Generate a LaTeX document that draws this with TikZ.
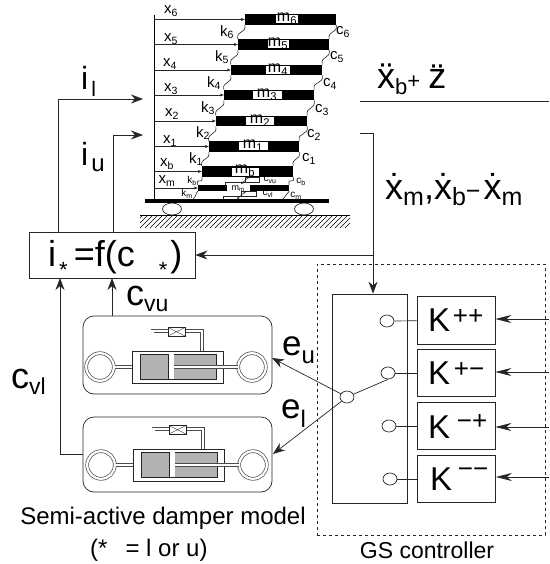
\documentclass[tikz,border=0pt]{standalone}
\usepackage{fontspec}
\setmainfont{Liberation Sans}
\usetikzlibrary{arrows.meta,shapes.geometric}

\newcommand{\fs}[1]{\fontsize{#1}{#1}\selectfont}
\newcommand{\dn}[3]{\raisebox{-#2}{\fs{#1}#3}}

\tikzstyle{ln}=[draw=black!85,line width=0.7pt]
\tikzstyle{arr}=[ln,-{Stealth[length=12pt,width=9pt]}]
\tikzstyle{inarr}=[ln,-{Stealth[length=16pt,width=8pt,inset=5pt]}]
\tikzstyle{smallarr}=[ln,line width=0.5pt,-{Stealth[length=4pt,width=3pt]}]
\tikzstyle{twoarr}=[ln,line width=0.5pt,{Stealth[length=3pt,width=2.5pt]}-{Stealth[length=3pt,width=2.5pt]}]
\tikzstyle{floorbar}=[fill=black,inner sep=0pt,minimum height=10.5pt]
\tikzstyle{flab}=[fill=white,inner sep=0pt,minimum height=8pt,text height=6pt,text depth=1pt,font=\fs{16}]
\tikzstyle{txt}=[inner sep=0pt,font=\fs{15}]
\tikzstyle{tinytxt}=[inner sep=0pt,font=\fs{10}]
\tikzstyle{bigtxt}=[inner sep=0pt,font=\fs{32}]
\tikzstyle{captxt}=[inner sep=0pt,font=\fs{24}]
\tikzstyle{kbox}=[ln,inner sep=0pt,minimum width=78pt,minimum height=47.5pt]
\tikzstyle{kwd}=[inner sep=0pt,font=\fs{33}]
\tikzstyle{ksup}=[inner sep=0pt,font=\fs{26}]
\tikzstyle{port}=[ln,fill=white,ellipse,inner sep=0pt,minimum width=14pt,minimum height=12pt]
\tikzstyle{wheel}=[ln,fill=white,ellipse,inner sep=0pt,minimum width=19pt,minimum height=12pt]
\tikzstyle{spring}=[ln,line width=0.6pt]
\tikzstyle{tubeo}=[draw=black!70,line width=3.6pt]
\tikzstyle{tubei}=[draw=white,line width=2.2pt]

\tikzset{
  damper/.pic={
    \foreach \st in {tubeo,tubei}{
      \draw[\st] (-77.5,0) circle (13.8);
      \draw[\st] (74.5,0) circle (13.8);
      \draw[\st] (-64,0) -- (-45,0);
      \draw[\st] (-25,-15) -- (-25,-36) -- (24.5,-36) -- (24.5,-15);
    }
    \draw[ln,fill=white] (-9.5,-39.5) rectangle (7.5,-31);
    \draw[ln,line width=0.4pt] (-9.5,-39.5) -- (7.5,-31) (-9.5,-31) -- (7.5,-39.5);
    \draw[ln,fill=white] (-45.5,-16) rectangle (45.5,16);
    \draw[ln,fill=black!30] (-37.5,-13) rectangle (38.5,12);
    \fill[white] (-9.5,-12.6) rectangle (-3.5,11.6);
    \draw[ln,line width=0.5pt] (-9.5,-13) -- (-9.5,12);
    \foreach \st in {tubeo,tubei}
      \draw[\st] (-3.5,0) -- (60,0);
  }
}

\begin{document}
\begin{tikzpicture}[x=1pt,y=-1pt]
  \useasboundingbox (0,0) rectangle (549,564);

  % ground
  \begin{scope}
    \clip (140,215) rectangle (350,228);
    \foreach \hx in {130,135,...,350} \draw[line width=0.4pt] (\hx,228) -- (\hx+13,215);
  \end{scope}
  \draw[line width=0.4pt] (140,215) -- (350,215);
  \node[wheel] (wl) at (172,209) {};
  \node[wheel] (wr) at (304,209) {};
  \node[fill=black,inner sep=0pt,minimum width=184pt,minimum height=4pt] (beam) at (237,201) {};
  \coordinate (pole) at (154,15);
  \coordinate (kmfoot) at (193,199);
  \coordinate (cmfoot) at (283,199);
  \draw[line width=1pt] (pole) -- (pole |- beam.north);

  % floors
  \node[floorbar,minimum width=91pt] (m6) at (290.5,19.5) {};
  \node[floorbar,minimum width=91pt] (m5) at (283.5,44.5) {};
  \node[floorbar,minimum width=91pt] (m4) at (276.5,70) {};
  \node[floorbar,minimum width=90pt] (m3) at (269,95) {};
  \node[floorbar,minimum width=91pt] (m2) at (261.5,121) {};
  \node[floorbar,minimum width=90pt] (m1) at (254,146.5) {};
  \node[floorbar,minimum width=91pt] (mb) at (247.5,171.5) {};
  \node[floorbar,minimum width=91pt,minimum height=6pt] (mm) at (243.5,188) {};

  % inner dampers
  \draw[ln,line width=0.5pt] (225,187) |- (245,182) |- (259,177) |- (245,182);
  \draw[ln,line width=0.5pt] (223,199) |- (241,196) |- (256,191) |- (241,196);

  \node[flab,minimum width=22pt] (lm6) at (287,19.5) {m\textsubscript{6}};
  \node[flab,minimum width=21pt] (lm5) at (278,44.5) {m\textsubscript{5}};
  \node[flab,minimum width=24pt] (lm4) at (278,70) {m\textsubscript{4}};
  \node[flab,minimum width=29pt] (lm3) at (267,95) {m\textsubscript{3}};
  \node[flab,minimum width=28pt] (lm2) at (260,121) {m\textsubscript{2}};
  \node[flab,minimum width=29pt] (lm1) at (253,146.5) {m\textsubscript{1}};
  \node[flab,minimum width=27pt] (lmb) at (245,171.5) {m\textsubscript{b}};
  \node[flab,font=\fs{9},minimum width=23pt,minimum height=6pt,text height=5pt] (lmm) at (238,188) {m\textsubscript{m}};

  \coordinate (dua) at (241,184);
  \coordinate (dub) at (250,176);
  \coordinate (dla) at (237,199);
  \coordinate (dlb) at (246,191);
  \draw[twoarr] (dua) -- (dub);
  \draw[twoarr] (dla) -- (dlb);

  % springs and dampers between floors
  \foreach \lo/\hi in {mm/mb,mb/m1,m1/m2,m2/m3,m3/m4,m4/m5,m5/m6}{
    \draw[spring] (\lo.north west) .. controls +(-2,-9) and +(2,9) .. (\hi.south west);
    \draw[spring] (\lo.north east) .. controls +(-2,-9) and +(2,9) .. (\hi.south east);
  }
  \draw[spring] (kmfoot) .. controls +(4,-3) and +(-3,3) .. (mm.south west);
  \draw[spring] (cmfoot) .. controls +(3,-3) and +(-3,3) .. (mm.south east);

  % displacement arrows
  \foreach \fl in {m6,m5,m4,m3,m2,m1,mb,mm}
    \draw[smallarr] (pole |- \fl.west) -- (\fl.west);

  \node[txt] (x6) at (171,11) {x\textsubscript{6}};
  \node[txt] (x5) at (171,39) {x\textsubscript{5}};
  \node[txt] (x4) at (170,64) {x\textsubscript{4}};
  \node[txt] (x3) at (171,89) {x\textsubscript{3}};
  \node[txt] (x2) at (172,114) {x\textsubscript{2}};
  \node[txt] (x1) at (170,141) {x\textsubscript{1}};
  \node[txt] (xb) at (167,164) {x\textsubscript{b}};
  \node[txt] (xm) at (167,181) {x\textsubscript{m}};

  \node[txt] (k6) at (227,32) {k\textsubscript{6}};
  \node[txt] (k5) at (222,57) {k\textsubscript{5}};
  \node[txt] (k4) at (214,83) {k\textsubscript{4}};
  \node[txt] (k3) at (208,108) {k\textsubscript{3}};
  \node[txt] (k2) at (203,133) {k\textsubscript{2}};
  \node[txt] (k1) at (196,159) {k\textsubscript{1}};
  \node[tinytxt] (kb) at (192,181) {k\textsubscript{b}};
  \node[tinytxt] (km) at (187,194) {k\textsubscript{m}};

  \node[txt] (c6) at (343,32) {c\textsubscript{6}};
  \node[txt] (c5) at (337,57) {c\textsubscript{5}};
  \node[txt] (c4) at (330,84) {c\textsubscript{4}};
  \node[txt] (c3) at (322,110) {c\textsubscript{3}};
  \node[txt] (c2) at (314,135) {c\textsubscript{2}};
  \node[txt] (c1) at (309,159) {c\textsubscript{1}};
  \node[tinytxt] (cb) at (301,182) {c\textsubscript{b}};
  \node[tinytxt] (cm) at (296,196) {c\textsubscript{m}};
  \node[tinytxt] (cvu) at (270,180) {c\textsubscript{vu}};
  \node[tinytxt] (cvl) at (268,194) {c\textsubscript{vl}};

  % controller law
  \node[ln,inner sep=0pt,minimum width=166pt,minimum height=46pt] (law) at (112,255) {};
  \node[inner sep=0pt,font=\fs{36},anchor=base west] (lawtxt) at (48,266) {i\hspace{3pt}\dn{22}{11pt}{*}\hspace{6pt}=f(c\hspace{24pt}\dn{22}{11pt}{*}\hspace{3pt})};

  \coordinate (iltop) at (143,99);
  \coordinate (iutop) at (143,135);
  \draw[arr] (law.north -| 58,0) |- (iltop);
  \draw[arr] (law.north -| 113,0) |- (iutop);
  \node[bigtxt,anchor=base west] (il) at (81,90) {i\hspace{3pt}\dn{21}{7pt}{l}};
  \node[bigtxt,anchor=base west] (iu) at (81,165) {i\hspace{3pt}\dn{24}{6pt}{u}};

  % top right signals
  \coordinate (zl) at (360,101);
  \coordinate (zr) at (549,101);
  \draw[ln] (zl) -- (zr);
  \node[inner sep=0pt,font=\fs{36},anchor=base west] (ztxt) at (377,89) {\"x\dn{22}{6pt}{b}{\fs{22}+}\hspace{8pt}\"z};
  \node[inner sep=0pt,font=\fs{36},anchor=base west] (xtxt) at (385,199) {\.x\dn{25}{6pt}{m},\.x\dn{25}{6pt}{b}{\fs{25}−}\hspace{3pt}\.x\dn{25}{6pt}{m}};

  % dampers
  \pic at (177.5,367) {damper};
  \pic at (178.5,465) {damper};
  \node[ln,rounded corners=11pt,inner sep=0pt,minimum width=189pt,minimum height=78pt] (du) at (177.5,355) {};
  \node[ln,rounded corners=11pt,inner sep=0pt,minimum width=189pt,minimum height=75pt] (dl) at (177.5,454.5) {};

  \coordinate (cvutop) at (112,278);
  \coordinate (cvltop) at (60,278);
  \draw[arr] (du.north -| cvutop) -- (cvutop);
  \draw[arr] (dl.west) -| (cvltop);
  \node[inner sep=0pt,font=\fs{36},anchor=base west] (cvu2) at (126,305) {c\dn{23}{6pt}{vu}};
  \node[inner sep=0pt,font=\fs{36},anchor=base west] (cvl2) at (11,388) {c\dn{23}{6pt}{vl}};
  \node[inner sep=0pt,font=\fs{35},anchor=base west] (eu) at (282,355) {e\dn{24}{8pt}{u}};
  \node[inner sep=0pt,font=\fs{35},anchor=base west] (el) at (281,418) {e\dn{24}{9pt}{l}};

  \node[captxt] (semi) at (163,518) {Semi-active damper model};
  \node[captxt,anchor=west] (star) at (90,550) {(*\hspace{18pt}= l or u)};

  % GS controller
  \node[draw=black!85,dashed,line width=0.6pt,inner sep=0pt,minimum width=228pt,minimum height=271pt] (gs) at (431,399.5) {};
  \node[captxt,font=\fs{23}] (gstxt) at (427,550) {GS controller};
  \node[ln,inner sep=0pt,minimum width=75pt,minimum height=209pt] (sw) at (369.5,398.5) {};

  \node[kbox] (kpp) at (456,320.5) {};
  \node[kbox] (kpm) at (456,373) {};
  \node[kbox] (kmp) at (456,426) {};
  \node[kbox] (kmm) at (456.5,479) {};
  \node[kwd] (kpptxt) at (439,320) {K};
  \node[kwd] (kpmtxt) at (439,373) {K};
  \node[kwd] (kmptxt) at (439,427) {K};
  \node[kwd] (kmmtxt) at (441,479) {K};
  \node[ksup] (kppsup) at (468,317) {++};
  \node[ksup] (kpmsup) at (469,370) {+−};
  \node[ksup] (kmpsup) at (472,422) {−+};
  \node[ksup] (kmmsup) at (473,473) {−−};

  \node[port] (p1) at (387,321) {};
  \node[port] (p2) at (388,373) {};
  \node[port] (p3) at (389,426) {};
  \node[port] (p4) at (390,479) {};
  \node[port] (hub) at (347,397) {};

  \draw[ln] (p1) -- (kpp);
  \draw[ln] (p2) -- (kpm);
  \draw[ln] (p3) -- (kmp);
  \draw[ln] (p4) -- (kmm);
  \draw[ln] (hub) -- (p2.south);

  \coordinate (in1) at (549,319);
  \coordinate (in2) at (549,372);
  \coordinate (in3) at (549,427);
  \coordinate (in4) at (549,477);
  \draw[inarr] (in1) -- (kpp.east |- in1);
  \draw[inarr] (in2) -- (kpm.east |- in2);
  \draw[inarr] (in3) -- (kmp.east |- in3);
  \draw[inarr] (in4) -- (kmm.east |- in4);

  \coordinate (duin) at (272,358);
  \coordinate (dlin) at (273,454);
  \draw[arr] (hub) -- (duin);
  \draw[arr] (hub) -- (dlin);

  % feedback line
  \coordinate (outtop) at (360,133);
  \coordinate (outcorner) at (373,133);
  \draw[arr] (outtop) -- (outcorner) -- (outcorner |- sw.north);
  \draw[arr] (outcorner |- law.east) -- (law.east);
\end{tikzpicture}
\end{document}
